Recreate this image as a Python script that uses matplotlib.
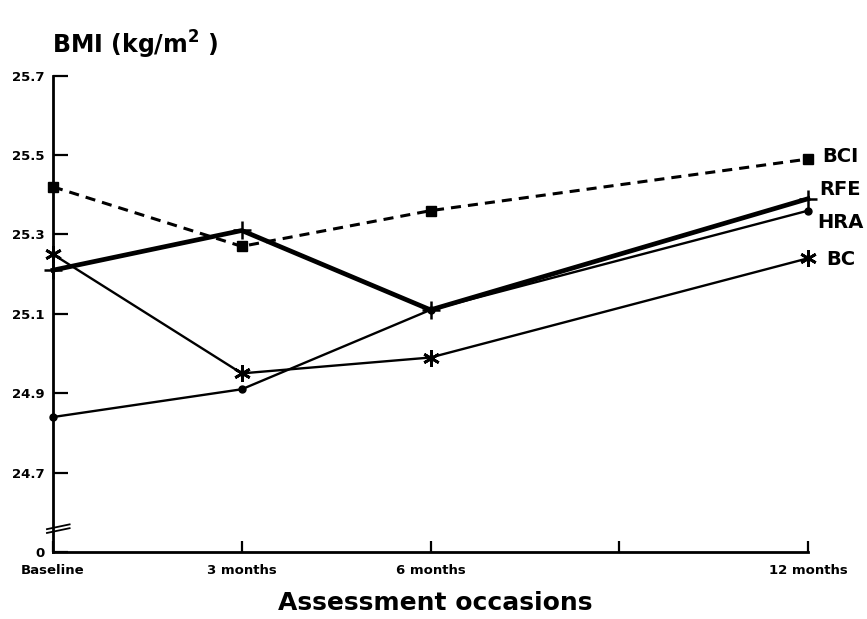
import matplotlib
matplotlib.use("Agg")
import matplotlib.pyplot as plt

# mean BMI per group at each assessment
months = [0, 3, 6, 12]
bci = [25.42, 25.27, 25.36, 25.49]
rfe = [25.21, 25.31, 25.11, 25.39]
hra = [24.84, 24.91, 25.11, 25.36]
bc = [25.25, 24.95, 24.99, 25.24]

xticks = [0, 3, 6, 9, 12]
xlabels = ["Baseline", "3 months", "6 months", "", "12 months"]
yticks = [24.5, 24.7, 24.9, 25.1, 25.3, 25.5, 25.7]
ylabels = ["0", "24.7", "24.9", "25.1", "25.3", "25.5", "25.7"]

plt.rcParams['font.family'] = 'DejaVu Sans'
plt.rcParams['font.weight'] = 'bold'
plt.rcParams['mathtext.fontset'] = 'custom'
plt.rcParams['mathtext.bf'] = 'DejaVu Sans:bold'
plt.rcParams['mathtext.rm'] = 'DejaVu Sans:bold'

fig = plt.figure(figsize=(8.67, 6.19), dpi=100)
ax = fig.add_axes([53 / 867, 67 / 619, (808 - 53) / 867, (552 - 75.7) / 619])

ax.plot(months, bci, color='k', lw=2.2, dashes=(3.3, 2.3), marker='s', ms=7, clip_on=False)
ax.plot(months, rfe, color='k', lw=3.4, marker='+', ms=13, mew=1.8, clip_on=False)
ax.plot(months, hra, color='k', lw=1.7, marker='o', ms=5, clip_on=False)
ax.plot(months, bc, color='k', lw=1.7, marker=(6, 2, 0), ms=12, mew=2, clip_on=False)

# group names at the right end of each line
kw = dict(textcoords='offset points', fontsize=14, fontweight='bold', va='center', ha='left',
          annotation_clip=False)
ax.annotate("BCI", (months[-1], bci[-1]), xytext=(10, 2), **kw)
ax.annotate("RFE", (months[-1], rfe[-1]), xytext=(8, 7), **kw)
ax.annotate("HRA", (months[-1], hra[-1]), xytext=(6.5, -8.6), **kw)
ax.annotate("BC", (months[-1], bc[-1]), xytext=(13, -1), **kw)

ax.set_xlim(0, 12)
ax.set_ylim(24.5, 25.7)
ax.set_xticks(xticks)
ax.set_xticklabels(xlabels, fontsize=9.5, fontweight='bold')
ax.set_yticks(yticks)
ax.set_yticklabels(ylabels, fontsize=9.5, fontweight='bold')
ax.tick_params(axis='y', direction='in', length=11, width=1.6, pad=6)
ax.tick_params(axis='x', direction='in', length=8, width=1.6, pad=9)

for s in ['top', 'right']:
    ax.spines[s].set_visible(False)
for s in ['left', 'bottom']:
    ax.spines[s].set_linewidth(2)

# axis break marks
for dy in (0, 0.008):
    ax.plot([-0.008, 0.022], [0.040 + dy, 0.050 + dy], color='k', lw=1.3,
            transform=ax.transAxes, clip_on=False)

fig.text(52 / 867, 1 - 45 / 619, r"BMI (kg/m$^{\mathbf{2}}$ )", fontsize=17, fontweight='bold',
         ha='left', va='center')
fig.text(435 / 867, 1 - 603 / 619, "Assessment occasions", fontsize=18, fontweight='bold',
         ha='center', va='center')

fig.savefig("out.png", dpi=100)
